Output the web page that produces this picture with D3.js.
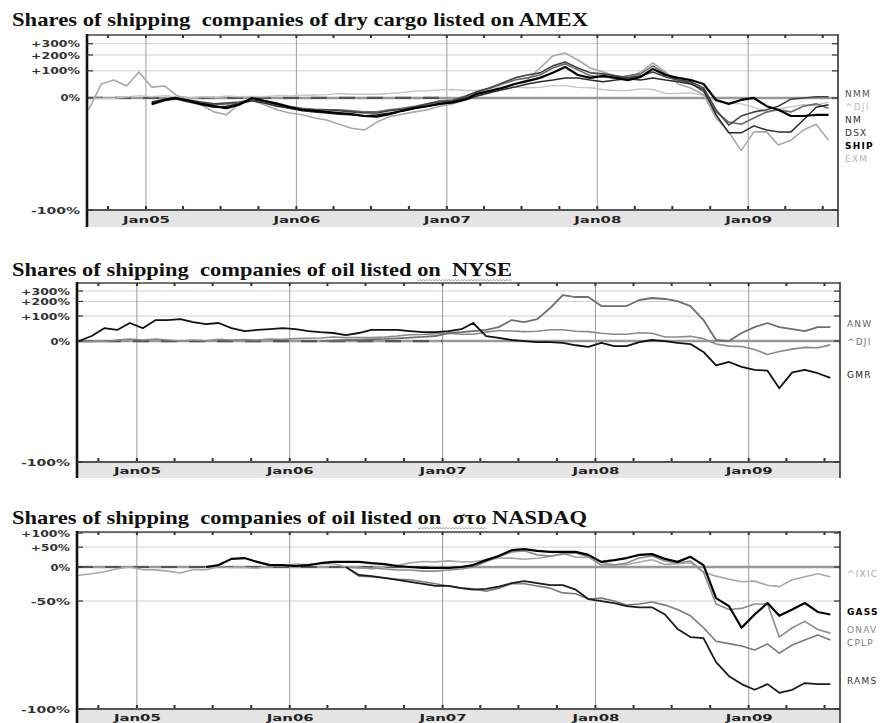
<!DOCTYPE html>
<html>
<head>
<meta charset="utf-8">
<script src="https://cdn.jsdelivr.net/npm/d3@7"></script>
<style>
  body { margin: 0; background: #fff; }
  svg { display: block; }
  .title { font-family: "Liberation Serif", "Times New Roman", serif; font-weight: bold; font-size: 19.5px; fill: #111; white-space: pre; }
  .ylab { font-family: "DejaVu Sans", sans-serif; font-weight: bold; font-size: 9.5px; fill: #333; }
  .xlab { font-family: "DejaVu Sans", sans-serif; font-weight: bold; font-size: 9.5px; fill: #222; }
  .leg { font-family: "DejaVu Sans", sans-serif; font-size: 9px; letter-spacing: 1.2px; }
</style>
</head>
<body>
<div id="chart"></div>
<script>
// monthly samples, mid-month, Aug 2004 .. Jul 2009
var months = d3.range(60).map(function(i) { return new Date(2004, 7 + i, 15); });
var yearLabels = ["Jan05", "Jan06", "Jan07", "Jan08", "Jan09"];
var yearDates = [2005, 2006, 2007, 2008, 2009].map(function(y) { return new Date(y, 0, 1); });

var titles = [
  "Shares of shipping  companies of dry cargo listed on AMEX",
  "Shares of shipping  companies of oil listed on  NYSE",
  "Shares of shipping  companies of oil listed on  \u03c3\u03c4\u03bf NASDAQ"
];
var ticksWide = [300, 200, 100, 0, -100];
var ticksNasdaq = [100, 50, 0, -50, -100];

// % change, one value per month (null = not listed yet)
var dji = [0,-1,-1,2.5,6,3,6,3,0,3,1,5,3,4,3,6,5,7,8,9,12,10,10,10,12,15,19,20,23,24,21,21,28,34,32,30,31,37,37,31,30,24,21,21,26,24,12,12,14,7,-8,-13,-14,-21,-31,-25,-20,-16,-17,-10];

var exm = [-26,43,58,36,94,32,36,8,-5,-16,-30,-35,-14,-5,-16,-26,-32,-35,-40,-43,-49,-54,-56,-46,-38,-34,-30,-26,-19,
  -14,-5,5,14,29,43,58,115,193,216,164,115,94,76,67,94,145,94,
  43,29,8,-40,-58,-74,-58,-58,-70,-66,-56,-49,-66];
var ship = [null,null,null,null,null,
  -14,-5,0,-7,-14,-19,-23,-16,0,-7,-14,-21,-26,-28,-30,-32,-34,-37,-38,-34,-28,-23,-19,-14,
  -10,-3,11,20,29,43,54,67,90,121,80,67,76,67,58,71,110,80,
  67,58,43,-5,-14,-5,0,-19,-26,-37,-37,-35,-35];
var nmm = [null,null,null,null,null,
  -10,-3,0,-5,-10,-14,-12,-10,-5,-10,-16,-23,-25,-26,-26,-28,-30,-32,-32,-28,-25,-21,-14,-10,
  -7,3,17,29,47,67,80,90,127,151,115,90,85,76,67,76,94,71,
  58,51,29,-26,-50,-37,-30,-26,-19,-3,0,3,3];
var nm = [null,null,null,null,null,
  -12,-5,-3,-10,-16,-21,-19,-14,-7,-12,-19,-23,-28,-30,-32,-34,-35,-37,-35,-32,-28,-23,-19,-14,
  -12,-5,5,14,23,32,43,51,58,67,67,58,51,58,63,58,67,58,
  51,43,23,-35,-59,-59,-51,-56,-58,-58,-43,-21,-16];
var dsx = [null,null,null,null,null,
  -16,-7,0,-7,-12,-16,-14,-12,-5,-7,-12,-19,-23,-25,-26,-26,-28,-30,-30,-26,-23,-19,-14,-7,
  -5,5,17,29,43,58,67,80,115,139,105,76,71,67,76,85,127,85,
  58,47,17,-30,-46,-49,-40,-30,-26,-30,-19,-14,-23];

var gmr = [0,15,43,36,65,43,79,79,84,69,60,65,43,32,36,39,43,39,32,28,
  25,18,25,36,36,36,32,28,28,32,39,65,15,9,3,0,-3,-3,-5,-11,
  -15,-5,-13,-13,-3,3,0,-5,-8,-26,-49,-44,-51,-55,-56,-73,-58,-55,-59,-64];
var anw = [null,null,null,null,null,null,null,null,null,null,null,null,null,null,null,null,null,null,null,
  0,2,3,3,5,6,8,
  10,12,15,25,28,32,36,47,79,69,84,150,258,239,239,164,164,164,212,230,221,203,164,79,3,0,25,47,65,47,39,32,47,47];

var ixic = [-15.5,-12.8,-9.2,-3.6,0,-5.2,-5.7,-8.1,-11.6,-4.9,-5.4,0.5,-1.1,-1.1,-2.5,2.7,1.4,6.0,4.9,7.6,
  6.8,0.2,-0.1,-3.9,0.4,3.8,8.8,11.8,11.0,13.3,11.1,11.4,16.1,19.8,19.7,17.1,19.4,24.2,31.4,22.3,
  21.9,9.8,4.4,4.8,10.9,16.0,5.4,6.9,8.9,-10,-17,-22,-26,-25,-31,-33,-23,-18,-13,-18];
var gass = [null,null,null,null,null,null,null,null,null,null,
  0,4,18,20,11,4,4,2,4,8,11,11,11,8,6,2,0,-2,-2,-2,
  0,4,15,25,41,44,39,36,36,36,28,11,15,20,28,30,18,11,23,4,
  -47,-55,-71,-62,-52,-63,-58,-52,-60,-62];
var onav = [null,null,null,null,null,null,null,null,null,null,null,null,null,null,null,null,null,null,null,null,null,
  0,-2,-2,-4,-6,-6,-8,-8,-6,-4,0,11,23,36,39,28,25,30,33,23,
  4,4,8.5,20,25,13,8.5,13,-10,-53,-58,-57,-53,-53,-76,-71,-67,-72,-74];
var cplp = [null,null,null,null,null,null,null,null,null,null,null,null,null,null,null,null,null,null,null,null,null,
  0,-17,-18,-20,-22,-23,-26,-29,-32,-35,-36,-39,-35,-29,-29,-32,-35,-41,-42,-48,
  -47,-50,-54,-53,-51,-54,-58,-63,-71,-78,-79,-80,-81.6,-79.2,-82.7,-79.6,-77.4,-75,-77.4];
var rams = [null,null,null,null,null,null,null,null,null,null,null,null,null,null,null,null,null,null,null,null,null,
  0,-15,-17,-20,-23,-26,-29,-32,-32,-35,-37,-36,-33,-28,-25,-28,-31,-31,-37,-48,
  -50,-52,-55,-56,-56,-62,-71.7,-76,-76.5,-85.6,-89.2,-90.8,-91.8,-90.8,-92.3,-91.8,-90.6,-90.8,-90.8];

var xStart = new Date(2004, 7, 11), xEnd = new Date(2009, 7, 7);

var svg = d3.select("#chart").append("svg")
    .attr("width", 896)
    .attr("height", 723);

var panels = [
  { title: titles[0], titleY: 26, titleWidth: 576, squiggle: null,
    left: 87, right: 838, top: 35, bottom: 210, band: 17, yDomain: [0.057, 5.0], ticks: ticksWide,
    series: [
      { name: "^DJI", values: dji, color: "#c6c6c6", width: 1.4, label: "#bdbdbd" },
      { name: "EXM", values: exm, color: "#a9a9a9", width: 1.6, label: "#b5b5b5" },
      { name: "DSX", values: dsx, color: "#6a6a6a", width: 1.6, label: "#333" },
      { name: "NM", values: nm, color: "#2a2a2a", width: 1.5, label: "#333" },
      { name: "NMM", values: nmm, color: "#444", width: 1.6, label: "#555" },
      { name: "SHIP", values: ship, color: "#000", width: 2.2, label: "#000", bold: true }
    ] },
  { title: titles[1], titleY: 276, titleWidth: 500, squiggle: "on  NYSE",
    left: 77, right: 840, top: 283, bottom: 462, band: 16, yDomain: [0.035, 5.0], ticks: ticksWide,
    series: [
      { name: "^DJI", values: dji, color: "#8a8a8a", width: 1.6, label: "#777" },
      { name: "ANW", values: anw, color: "#6f6f6f", width: 1.8, label: "#666" },
      { name: "GMR", values: gmr, color: "#111", width: 1.8, label: "#222" }
    ] },
  { title: titles[2], titleY: 524, titleWidth: 575, squiggle: "on  \u03c3\u03c4\u03bf",
    left: 77, right: 840, top: 532, bottom: 709, band: 16, yDomain: [0.0554, 2.04], ticks: ticksNasdaq,
    series: [
      { name: "^IXIC", values: ixic, color: "#a8a8a8", width: 1.6, label: "#aaa" },
      { name: "CPLP", values: cplp, color: "#7a7a7a", width: 1.6, label: "#777" },
      { name: "ONAV", values: onav, color: "#8c8c8c", width: 1.6, label: "#888" },
      { name: "RAMS", values: rams, color: "#1c1c1c", width: 1.8, label: "#333" },
      { name: "GASS", values: gass, color: "#000", width: 2.2, label: "#000", bold: true }
    ] }
];

function fmtPct(v) {
  return (v > 0 ? "+" : "") + v + "%";
}

function drawPanel(p) {
  var g = svg.append("g");
  var x = d3.scaleTime().domain([xStart, xEnd]).range([p.left, p.right]);
  var yl = d3.scaleLog().domain(p.yDomain).range([p.bottom, p.top]);
  function yv(v) { return yl(Math.max(1 + v / 100, p.yDomain[0])); }

  var title = g.append("text")
      .attr("class", "title")
      .attr("x", 12)
      .attr("y", p.titleY)
      .attr("textLength", p.titleWidth)
      .attr("lengthAdjust", "spacingAndGlyphs")
      .text(p.title);

  // spell-check squiggle under part of the title
  if (p.squiggle) {
    var node = title.node();
    var i0 = p.title.indexOf(p.squiggle), i1 = i0 + p.squiggle.length - 1;
    var sx0 = node.getStartPositionOfChar(i0).x, sx1 = node.getEndPositionOfChar(i1).x;
    var pts = d3.range(sx0, sx1, 1.6).map(function(xx, k) { return [xx, p.titleY + 4 + (k % 2 ? 1 : -0.6)]; });
    g.append("path")
        .attr("d", d3.line()(pts))
        .attr("fill", "none")
        .attr("stroke", "#8a8a8a")
        .attr("stroke-width", 0.8);
  }

  g.append("rect")
      .attr("x", p.left)
      .attr("y", p.bottom)
      .attr("width", p.right - p.left)
      .attr("height", p.band)
      .attr("fill", "#e5e5e5");

  g.selectAll(".hgrid")
      .data(p.ticks.filter(function(v) { return v !== 0 && v !== -100; }))
    .enter().append("line")
      .attr("x1", p.left).attr("x2", p.right)
      .attr("y1", yv).attr("y2", yv)
      .attr("stroke", "#d0d0d0")
      .attr("stroke-width", 1);

  g.selectAll(".vgrid")
      .data(yearDates)
    .enter().append("line")
      .attr("x1", x).attr("x2", x)
      .attr("y1", p.top).attr("y2", p.bottom)
      .attr("stroke", "#9c9c9c")
      .attr("stroke-width", 1);

  g.append("line")
      .attr("x1", p.left).attr("x2", p.right)
      .attr("y1", yv(0)).attr("y2", yv(0))
      .attr("stroke", "#999")
      .attr("stroke-width", 2.5);
  g.append("line")
      .attr("x1", p.left).attr("x2", x(new Date(2007, 0, 1)))
      .attr("y1", yv(0)).attr("y2", yv(0))
      .attr("stroke", "#555")
      .attr("stroke-width", 2.2)
      .attr("stroke-dasharray", "16,12");

  var line = d3.line()
      .defined(function(d) { return d[1] != null; })
      .x(function(d) { return x(d[0]); })
      .y(function(d) { return yv(d[1]); });

  p.series.forEach(function(s) {
    g.append("path")
        .datum(months.map(function(m, i) { return [m, s.values[i]]; }))
        .attr("d", line)
        .attr("fill", "none")
        .attr("stroke", s.color)
        .attr("stroke-width", s.width)
        .attr("stroke-linejoin", "round");
  });

  // frame
  g.append("line").attr("x1", p.left).attr("x2", p.right).attr("y1", p.top).attr("y2", p.top)
      .attr("stroke", "#444").attr("stroke-width", 1.5);
  g.append("line").attr("x1", p.left).attr("x2", p.right).attr("y1", p.bottom).attr("y2", p.bottom)
      .attr("stroke", "#555").attr("stroke-width", 2);
  g.append("line").attr("x1", p.right).attr("x2", p.right).attr("y1", p.top - 1).attr("y2", p.bottom + p.band)
      .attr("stroke", "#333").attr("stroke-width", 1.6);
  g.append("line").attr("x1", p.left).attr("x2", p.left).attr("y1", p.top - 1).attr("y2", p.bottom + p.band)
      .attr("stroke", "#111").attr("stroke-width", 2.6);

  var quarters = d3.timeMonth.every(3).range(xStart, xEnd);
  g.selectAll(".qtop")
      .data(quarters)
    .enter().append("rect")
      .attr("x", function(d) { return x(d) - 1; })
      .attr("y", p.top)
      .attr("width", 2).attr("height", 3)
      .attr("fill", "#333");
  g.selectAll(".qbot")
      .data(quarters)
    .enter().append("rect")
      .attr("x", function(d) { return x(d) - 1; })
      .attr("y", p.bottom - 4)
      .attr("width", 2).attr("height", 3)
      .attr("fill", "#333");

  // inner ticks on both sides
  g.selectAll(".ytickL")
      .data(p.ticks)
    .enter().append("line")
      .attr("x1", p.left).attr("x2", p.left + 6)
      .attr("y1", yv).attr("y2", yv)
      .attr("stroke", "#333").attr("stroke-width", 1.2);
  g.selectAll(".ytickR")
      .data(p.ticks)
    .enter().append("line")
      .attr("x1", p.right - 6).attr("x2", p.right)
      .attr("y1", yv).attr("y2", yv)
      .attr("stroke", "#333").attr("stroke-width", 1.2);

  var yAxis = g.append("g")
      .attr("transform", "translate(" + p.left + ",0)")
      .call(d3.axisLeft(yl)
        .tickValues(p.ticks.map(function(v) { return Math.max(1 + v / 100, p.yDomain[0]); }))
        .tickFormat(function(d, i) { return fmtPct(p.ticks[i]); })
        .tickSize(0)
        .tickPadding(7));
  yAxis.select(".domain").remove();
  yAxis.selectAll("text")
      .attr("class", "ylab")
      .attr("font-family", null).attr("font-size", null).attr("fill", null)
      .attr("textLength", function() { return this.textContent.length * 9.8; })
      .attr("lengthAdjust", "spacingAndGlyphs");

  var xAxis = g.append("g")
      .attr("transform", "translate(0," + (p.bottom + p.band / 2 + 1) + ")")
      .call(d3.axisBottom(x)
        .tickValues(yearDates)
        .tickFormat(function(d, i) { return yearLabels[i]; })
        .tickSize(0)
        .tickPadding(0));
  xAxis.select(".domain").remove();
  xAxis.selectAll("text")
      .attr("class", "xlab")
      .attr("font-family", null).attr("font-size", null).attr("fill", null)
      .attr("dy", "0.35em")
      .attr("textLength", 47)
      .attr("lengthAdjust", "spacingAndGlyphs");

  // labels at the right end, pushed apart so they do not overlap
  var labels = p.series.map(function(s) {
    return { s: s, y: yv(s.values[s.values.length - 1]) - 3 };
  }).sort(function(a, b) { return a.y - b.y; });
  var prev = -Infinity;
  labels.forEach(function(l) {
    l.y = Math.max(l.y, prev + 13);
    prev = l.y;
  });
  g.selectAll(".leg")
      .data(labels)
    .enter().append("text")
      .attr("class", "leg")
      .attr("x", p.right + 7)
      .attr("y", function(d) { return d.y; })
      .attr("dy", "0.35em")
      .attr("fill", function(d) { return d.s.label; })
      .attr("font-weight", function(d) { return d.s.bold ? "bold" : null; })
      .text(function(d) { return d.s.name; });
}

panels.forEach(drawPanel);
</script>
</body>
</html>
